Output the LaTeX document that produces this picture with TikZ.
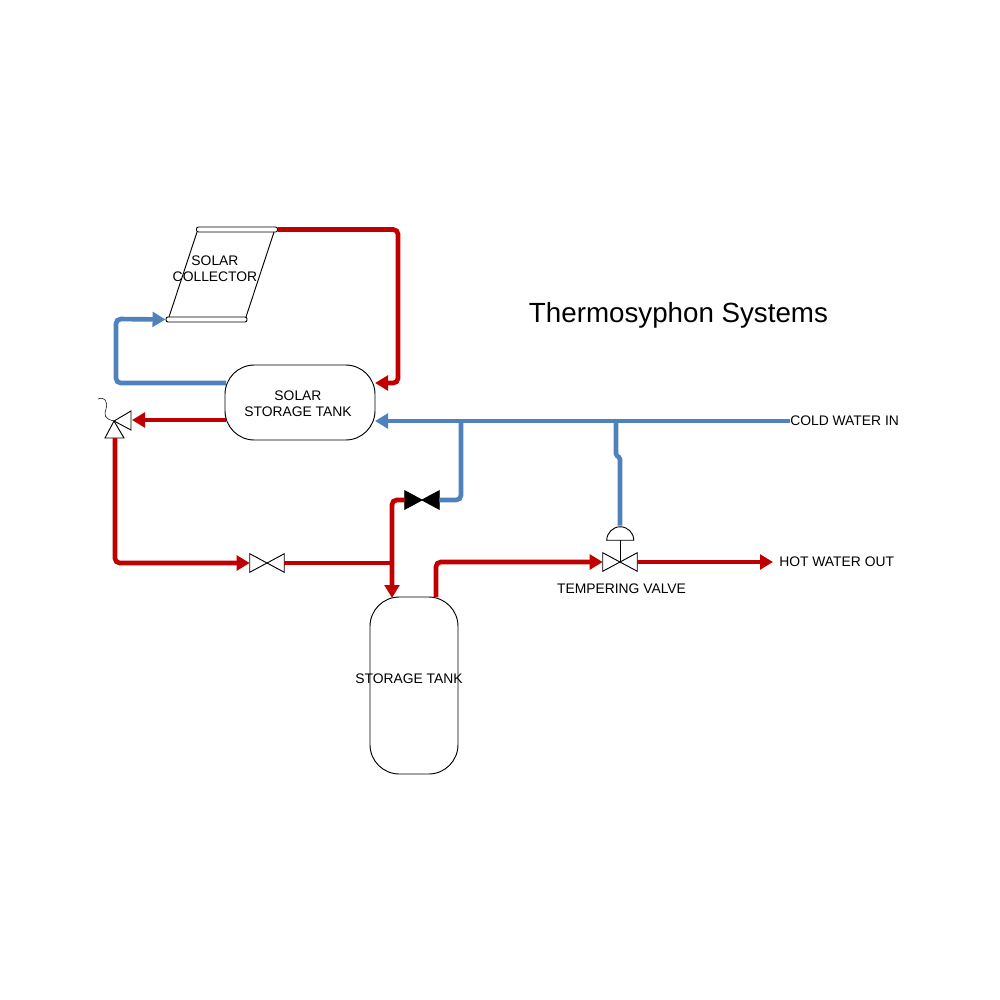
\documentclass[tikz,border=0pt]{standalone}
\usepackage{fontspec}
\setmainfont{Liberation Sans}
\usetikzlibrary{arrows.meta,positioning}
\definecolor{HotRed}{HTML}{C00000}
\definecolor{ColdBlue}{HTML}{4F81BD}
\tikzset{
  tankbox/.style={
    rectangle, draw=black, fill=white, line width=0.7pt, align=center,
    inner sep=0pt
  },
  collectorbar/.style={
    rectangle, rounded corners=1.5pt, draw=black, fill=white, line width=0.7pt,
    minimum width=60.75pt, minimum height=3.75pt, inner sep=0pt
  },
  valvebox/.style={minimum width=25.5pt, minimum height=13.5pt, inner sep=0pt},
  valveline/.style={draw=black, line width=0.7pt, line join=miter},
  domebox/.style={minimum width=20.25pt, minimum height=10.5pt, inner sep=0pt},
  pipelabel/.style={font=\fontsize{10.4pt}{11.8pt}\selectfont, align=center, inner sep=0pt},
  hotpipe/.style={draw=HotRed, line width=3.5pt, rounded corners=3.5pt},
  coldpipe/.style={draw=ColdBlue, line width=3.5pt, rounded corners=3.5pt},
  pipetip/.style={-{Triangle[length=9.75pt,width=11pt]}},
}
\begin{document}
\begin{tikzpicture}[x=0.75pt,y=-0.75pt]
    \useasboundingbox (0,0) rectangle (1000,1000);
    \node[font=\fontsize{20.8pt}{24pt}\selectfont, inner sep=0pt] (Title) at (678.5,315) {Thermosyphon Systems};
    % tanks and collector
    \node[tankbox, rounded corners=22pt, minimum width=112.5pt, minimum height=56.25pt] (SolarTank) at (300,402.5) {};
    \node[pipelabel] (SolarLabel) at (298,403.5) {SOLAR\\STORAGE TANK};
    \node[tankbox, rounded corners=22pt, minimum width=66pt, minimum height=132.75pt] (StorageTank) at (414,685.5) {};
    \node[pipelabel] (StorageLabel) at (409,679) {STORAGE TANK};
    \node[collectorbar] (TopBar) at (237,229.5) {};
    \node[collectorbar] (BottomBar) at (206.5,319.5) {};
    \draw[valveline] (197,232) -- (169,317);
    \draw[valveline] (274,232) -- (246,317);
    \node[pipelabel] (CollectorLabel) at (215,268.5) {SOLAR\\COLLECTOR};
    % valves
    \node[valvebox] (LineValve) at (267,563) {};
    \node[valvebox] (BlackValve) at (422,500) {};
    \node[valvebox] (TemperValve) at (620,562) {};
    \node[domebox] (Actuator) at (620,533) {};
    \coordinate (DivPoint) at (114,421);
    \coordinate (DivRight) at (132,420);
    \coordinate (DivDown) at (115,438);
    \draw[valveline] (LineValve.north west) -- (LineValve.south east) -- (LineValve.north east) -- (LineValve.south west) -- cycle;
    \draw[valveline, fill=black] (BlackValve.north west) -- (BlackValve.south east) -- (BlackValve.north east) -- (BlackValve.south west) -- cycle;
    \draw[valveline] (TemperValve.north west) -- (TemperValve.south east) -- (TemperValve.north east) -- (TemperValve.south west) -- cycle;
    \draw[valveline] (Actuator.south west) -- (Actuator.south east) arc[start angle=0, end angle=180, radius=10.125pt];
    \draw[valveline] (Actuator.south) -- (TemperValve.center);
    \draw[valveline] (DivPoint) -- (131,411) -- (131,430) -- cycle;
    \draw[valveline] (DivPoint) -- (105,438) -- (124,438) -- cycle;
    \draw[valveline, line width=0.4pt] (DivPoint) .. controls (104,419) and (104,414) .. (106,409) .. controls (108,402) and (105,396) .. (98,399);
    % end labels
    \coordinate (ColdEnd) at (790,421);
    \coordinate (HotEnd) at (773,562);
    \node[pipelabel, right=0pt of ColdEnd] (ColdLabel) {COLD WATER IN};
    \node[pipelabel, right=4.5pt of HotEnd] (HotLabel) {HOT WATER OUT};
    \node[pipelabel] (TemperLabel) at (621.5,589) {TEMPERING VALVE};
    % cold pipes
    \coordinate (SolarCold) at (375,421);
    \coordinate (BranchA) at (461,421);
    \coordinate (BranchB) at (616,421);
    \draw[coldpipe, pipetip] (ColdEnd) -- (SolarCold);
    \draw[coldpipe] (BranchA) |- (BlackValve.east);
    \draw[coldpipe, rounded corners=1pt] (BranchB) -- (616,455) -- (620,458) -- (Actuator.north);
    \draw[coldpipe, pipetip] (226,383) -| (116,319) -- (BottomBar.west);
    % hot pipes
    \coordinate (SolarHot) at (375,383);
    \coordinate (StorageIn) at (392,598);
    \coordinate (StorageOut) at (436,597);
    \draw[hotpipe, pipetip] (TopBar.east) -| (398,383) -- (SolarHot);
    \draw[hotpipe, pipetip] (226,420) -- (DivRight);
    \draw[hotpipe, pipetip] (DivDown) |- (LineValve.west);
    \draw[hotpipe] (LineValve.east) -- (392,563);
    \draw[hotpipe, pipetip] (BlackValve.west) -| (StorageIn);
    \draw[hotpipe, pipetip] (StorageOut) |- (TemperValve.west);
    \draw[hotpipe, pipetip] (TemperValve.east) -- (HotEnd);
  \end{tikzpicture}
\end{document}
